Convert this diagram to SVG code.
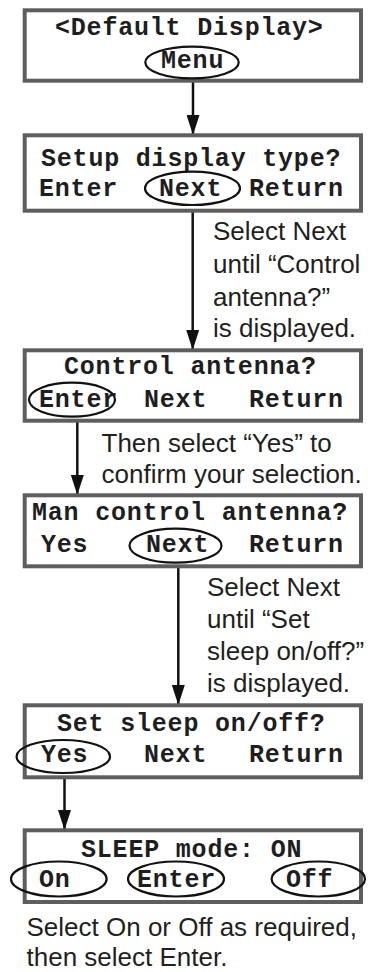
<svg xmlns="http://www.w3.org/2000/svg" width="368" height="972" viewBox="0 0 368 972">
<defs>
<style>
.box{fill:#fff;stroke:#5e5e5e;stroke-width:4}
.sel{fill:none;stroke:#111;stroke-width:2.2}
.m{font-family:"Liberation Mono","Courier New",monospace;font-weight:bold;font-size:25px;letter-spacing:0.8px;fill:#1e1e1e}
.s{font-family:"Liberation Sans",Arial,Helvetica,sans-serif;font-size:26px;fill:#231f20}
.ln{stroke:#111;stroke-width:2.5;fill:none}
</style>
<marker id="ad" viewBox="0 0 13 20" refX="6.5" refY="20" markerWidth="13" markerHeight="20" markerUnits="userSpaceOnUse" orient="0">
<path d="M0,0 L13,0 L6.5,20 Z" fill="#111"/>
</marker>
</defs>
<rect width="368" height="972" fill="#fff"/>

<g id="connectors">
<line class="ln" x1="193" y1="79" x2="193" y2="135" marker-end="url(#ad)"/>
<line class="ln" x1="192.7" y1="205" x2="192.7" y2="350" marker-end="url(#ad)"/>
<line class="ln" x1="77.3" y1="417" x2="77.3" y2="495" marker-end="url(#ad)"/>
<line class="ln" x1="178.3" y1="563" x2="178.3" y2="705" marker-end="url(#ad)"/>
<line class="ln" x1="64.5" y1="773" x2="64.5" y2="830" marker-end="url(#ad)"/>
</g>

<g id="node-default">
<rect class="box" x="24.7" y="10.3" width="336.3" height="70.4"/>
<text class="m" x="55" y="35">&lt;Default Display&gt;</text>
<ellipse class="sel" cx="192" cy="62.5" rx="46.7" ry="15.8"/>
<text class="m" x="161" y="68">Menu</text>
</g>

<g id="node-setup">
<rect class="box" x="24.7" y="135.3" width="336.3" height="75.4"/>
<text class="m" x="41" y="165.5">Setup display type?</text>
<text class="m" x="39" y="196">Enter</text>
<ellipse class="sel" cx="192.5" cy="188.3" rx="47.5" ry="16.7"/>
<text class="m" x="159" y="196">Next</text>
<text class="m" x="249" y="196">Return</text>
</g>

<g id="note-1">
<text class="s" x="213" y="240">Select Next</text>
<text class="s" x="213" y="273">until “Control</text>
<text class="s" x="213" y="306">antenna?”</text>
<text class="s" x="213" y="337">is displayed.</text>
</g>

<g id="node-control">
<rect class="box" x="24.7" y="350.3" width="336.3" height="70.4"/>
<text class="m" x="64" y="374">Control antenna?</text>
<ellipse class="sel" cx="72" cy="399.7" rx="43" ry="17"/>
<text class="m" x="39" y="407">Enter</text>
<text class="m" x="144" y="407">Next</text>
<text class="m" x="249" y="407">Return</text>
</g>

<g id="note-2">
<text class="s" x="101.5" y="452">Then select “Yes” to</text>
<text class="s" x="101.5" y="483">confirm your selection.</text>
</g>

<g id="node-man">
<rect class="box" x="24.7" y="495.3" width="336.3" height="71"/>
<text class="m" x="32" y="520">Man control antenna?</text>
<text class="m" x="41" y="552">Yes</text>
<ellipse class="sel" cx="175.5" cy="545.7" rx="46" ry="17"/>
<text class="m" x="146" y="552">Next</text>
<text class="m" x="249" y="552">Return</text>
</g>

<g id="note-3">
<text class="s" x="207" y="596">Select Next</text>
<text class="s" x="207" y="628">until “Set</text>
<text class="s" x="207" y="660">sleep on/off?”</text>
<text class="s" x="207" y="692">is displayed.</text>
</g>

<g id="node-sleep">
<rect class="box" x="24.7" y="705.3" width="336.3" height="72"/>
<text class="m" x="57" y="731">Set sleep on/off?</text>
<ellipse class="sel" cx="63.3" cy="756.5" rx="46.7" ry="16.5"/>
<text class="m" x="41" y="762">Yes</text>
<text class="m" x="144" y="762">Next</text>
<text class="m" x="249" y="762">Return</text>
</g>

<g id="node-mode">
<rect class="box" x="24.7" y="830.3" width="336.3" height="71.7"/>
<text class="m" x="81" y="857">SLEEP mode: ON</text>
<ellipse class="sel" cx="58.8" cy="879" rx="47.8" ry="17.5"/>
<text class="m" x="39" y="887">On</text>
<ellipse class="sel" cx="176" cy="879" rx="48" ry="17.5"/>
<text class="m" x="137" y="887">Enter</text>
<ellipse class="sel" cx="318.3" cy="879" rx="46.7" ry="17.5"/>
<text class="m" x="286" y="887">Off</text>
</g>

<g id="note-4">
<text class="s" x="26.5" y="936">Select On or Off as required,</text>
<text class="s" x="26.5" y="966">then select Enter.</text>
</g>
</svg>
